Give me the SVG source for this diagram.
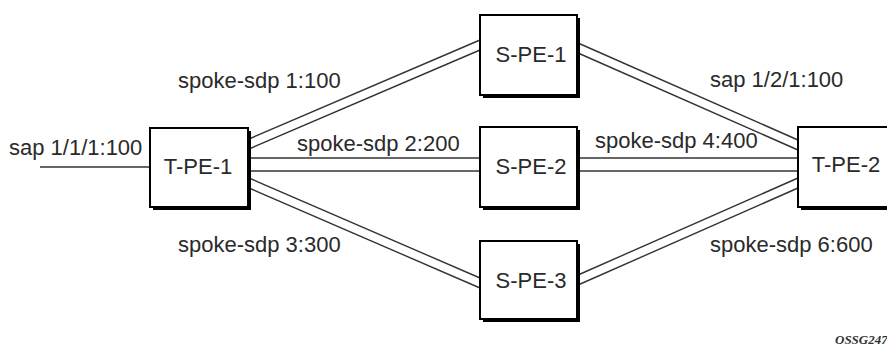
<svg xmlns="http://www.w3.org/2000/svg" width="887" height="347" viewBox="0 0 887 347">
<style>
.box{fill:#fff;stroke:#000;stroke-width:2}
.sh{fill:#000}
.t{font-family:"Liberation Sans",Arial,sans-serif;font-size:22px;fill:#2a2a2a}
.c{text-anchor:middle}
.ln{stroke:#333;stroke-width:1.4;fill:none}
.id{font-family:"Liberation Serif","Times New Roman",serif;font-size:13px;font-style:italic;font-weight:bold;fill:#333}
</style>
<rect width="887" height="347" fill="#fff"/>
<g id="connectors">
<line class="ln" x1="40" y1="167" x2="150" y2="167"/>
<line class="ln" x1="249" y1="139" x2="480" y2="40"/>
<line class="ln" x1="249" y1="149" x2="480" y2="50"/>
<line class="ln" x1="249" y1="158" x2="480" y2="158"/>
<line class="ln" x1="249" y1="171" x2="480" y2="171"/>
<line class="ln" x1="249" y1="178" x2="480" y2="278"/>
<line class="ln" x1="249" y1="188" x2="480" y2="288"/>
<line class="ln" x1="578" y1="43" x2="798" y2="140"/>
<line class="ln" x1="578" y1="53" x2="798" y2="150"/>
<line class="ln" x1="578" y1="158" x2="798" y2="158"/>
<line class="ln" x1="578" y1="171" x2="798" y2="171"/>
<line class="ln" x1="578" y1="275" x2="798" y2="178"/>
<line class="ln" x1="578" y1="285" x2="798" y2="188"/>
</g>
<g id="T-PE-1">
<rect class="sh" x="153" y="131" width="98" height="79"/>
<rect class="box" x="150" y="128" width="98" height="79"/>
<text class="t c" x="198" y="174">T-PE-1</text>
</g>
<g id="S-PE-1">
<rect class="sh" x="483" y="18" width="97" height="80"/>
<rect class="box" x="480" y="15" width="97" height="80"/>
<text class="t c" x="531" y="62">S-PE-1</text>
</g>
<g id="S-PE-2">
<rect class="sh" x="483" y="130" width="97" height="80"/>
<rect class="box" x="480" y="127" width="97" height="80"/>
<text class="t c" x="531" y="174">S-PE-2</text>
</g>
<g id="S-PE-3">
<rect class="sh" x="483" y="244" width="97" height="78"/>
<rect class="box" x="480" y="241" width="97" height="78"/>
<text class="t c" x="531" y="288">S-PE-3</text>
</g>
<g id="T-PE-2">
<rect class="sh" x="801" y="130" width="98" height="80"/>
<rect class="box" x="798" y="127" width="98" height="80"/>
<text class="t c" x="846" y="172">T-PE-2</text>
</g>
<g id="labels">
<text class="t" x="9" y="155">sap 1/1/1:100</text>
<text class="t" x="178" y="88">spoke-sdp 1:100</text>
<text class="t" x="297" y="151">spoke-sdp 2:200</text>
<text class="t" x="178" y="252">spoke-sdp 3:300</text>
<text class="t" x="710" y="87">sap 1/2/1:100</text>
<text class="t" x="595" y="148">spoke-sdp 4:400</text>
<text class="t" x="710" y="252">spoke-sdp 6:600</text>
<text class="id" x="835" y="344">OSSG247</text>
</g>
</svg>
